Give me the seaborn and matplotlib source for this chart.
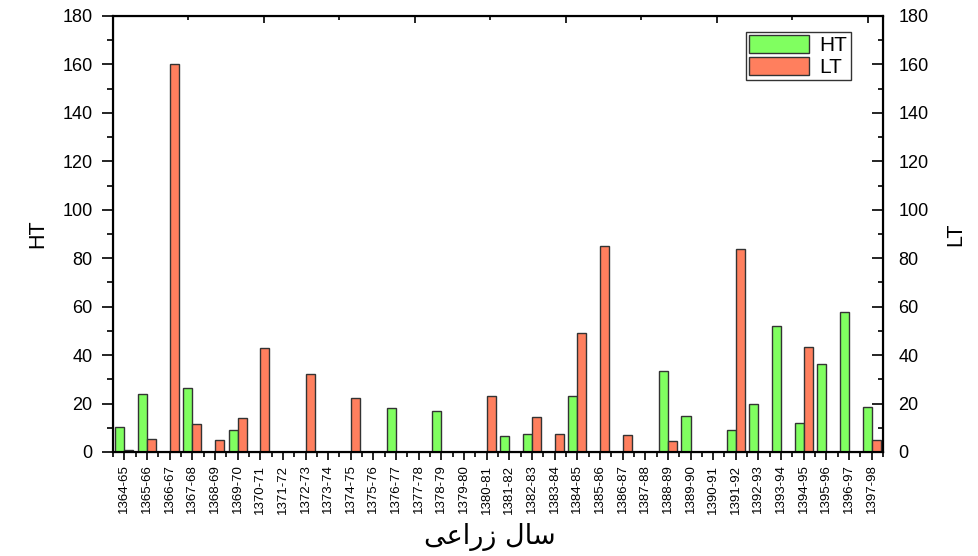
import numpy as np
import pandas as pd
import matplotlib
matplotlib.use("Agg")
import matplotlib.pyplot as plt
import seaborn as sns
from matplotlib.ticker import MultipleLocator, FixedLocator

years = ["1364-65", "1365-66", "1366-67", "1367-68", "1368-69", "1369-70", "1370-71",
         "1371-72", "1372-73", "1373-74", "1374-75", "1375-76", "1376-77", "1377-78",
         "1378-79", "1379-80", "1380-81", "1381-82", "1382-83", "1383-84", "1384-85",
         "1385-86", "1386-87", "1387-88", "1388-89", "1389-90", "1390-91", "1391-92",
         "1392-93", "1393-94", "1394-95", "1395-96", "1396-97", "1397-98"]
ht = [10.5, 24, 0, 26.5, 0, 9, 0,
      0, 0, 0, 0, 0, 18, 0,
      17, 0, 0, 6.5, 7.5, 0, 23,
      0, 0, 0, 33.5, 15, 0, 9,
      20, 52, 12, 36.5, 58, 18.5]
lt = [0.8, 5.5, 160, 11.5, 5, 14, 43,
      0, 32, 0, 22.5, 0, 0, 0,
      0, 0, 23, 0, 14.5, 7.5, 49,
      85, 7, 0, 4.5, 0, 0, 84,
      0, 0, 43.5, 0, 0, 5]

df = pd.DataFrame({"year": years * 2,
                   "value": ht + lt,
                   "series": ["HT"] * len(years) + ["LT"] * len(years)})

sns.set_style("ticks")
plt.rcParams["font.family"] = ["Liberation Sans", "DejaVu Sans"]
plt.rcParams["text.color"] = "black"
plt.rcParams["axes.labelcolor"] = "black"
plt.rcParams["xtick.color"] = "black"
plt.rcParams["ytick.color"] = "black"
plt.rcParams["axes.edgecolor"] = "black"

fig = plt.figure(figsize=(9.79, 5.56), dpi=100)
ax = fig.add_axes([113 / 979, (556 - 452) / 556, 770 / 979, 436 / 556])

palette = {"HT": "#80FF60", "LT": "#FF7F5E"}
sns.barplot(data=df, x="year", y="value", hue="series", palette=palette,
            order=years, hue_order=["HT", "LT"], width=0.8, saturation=1,
            edgecolor="#333333", linewidth=1.0, ax=ax)

ax.set_ylim(0, 180)
ax.set_xlim(-0.5, len(years) - 0.5)
ax.yaxis.set_major_locator(MultipleLocator(20))
ax.yaxis.set_minor_locator(MultipleLocator(10))
ax.xaxis.set_minor_locator(FixedLocator(np.arange(-0.5, len(years), 1.0)))
ax.tick_params(axis="y", which="major", length=7.7, width=1.2, direction="out",
               labelsize=13, pad=7)
ax.tick_params(axis="y", which="minor", length=4, width=1.2, direction="out")
ax.tick_params(axis="x", which="major", length=6, width=1.2, direction="out", labelsize=9.5,
               labelrotation=90, pad=3)
ax.tick_params(axis="x", which="minor", length=3.5, width=1.2, direction="out")
for s in ax.spines.values():
    s.set_linewidth(1.5)
    s.set_color("black")
    s.set_visible(True)

ax.set_ylabel("HT", fontsize=15.5, labelpad=10)
# Persian label "سال زراعی" pre-shaped in visual order
xlab = "\uFEF0\uFECB\uFE8D\uFEAD\uFEAF \uFEDD\uFE8E\uFEB3"
ax.set_xlabel(xlab, fontsize=19.5, family=["DejaVu Sans"])
ax.xaxis.set_label_coords(0.49, -0.162)

# right axis
ax2 = ax.twinx()
ax2.set_ylim(0, 180)
ax2.yaxis.set_major_locator(MultipleLocator(20))
ax2.yaxis.set_minor_locator(MultipleLocator(10))
ax2.tick_params(axis="y", which="major", length=8, width=1.2, direction="in",
                labelsize=13, pad=11)
ax2.tick_params(axis="y", which="minor", length=3.8, width=1.2, direction="in")
ax2.set_ylabel("LT", fontsize=15.5, labelpad=12)
for s in ax2.spines.values():
    s.set_linewidth(1.5)

# top axis ticks
ax3 = ax.twiny()
ax3.set_xlim(0, 1)
ax3.xaxis.set_major_locator(FixedLocator([0.196, 0.392, 0.588, 0.784, 0.980]))
ax3.xaxis.set_minor_locator(FixedLocator([0.098, 0.294, 0.490, 0.686, 0.882]))
ax3.tick_params(axis="x", which="major", length=5, width=1.2, direction="in", labeltop=False)
ax3.tick_params(axis="x", which="minor", length=3, width=1.2, direction="in")
ax3.set_xticklabels([])

handles, labels = ax.get_legend_handles_labels()
if ax.legend_ is not None:
    ax.legend_.remove()
leg = ax3.legend(handles, labels, loc="upper right", bbox_to_anchor=(0.958, 0.963),
                 borderaxespad=0, fancybox=False, frameon=True, edgecolor="black",
                 fontsize=15, handlelength=2.9, handleheight=0.95, handletextpad=0.5,
                 borderpad=0.15, labelspacing=0.08)
leg.get_frame().set_linewidth(1.0)

fig.savefig("out.png", dpi=100)
